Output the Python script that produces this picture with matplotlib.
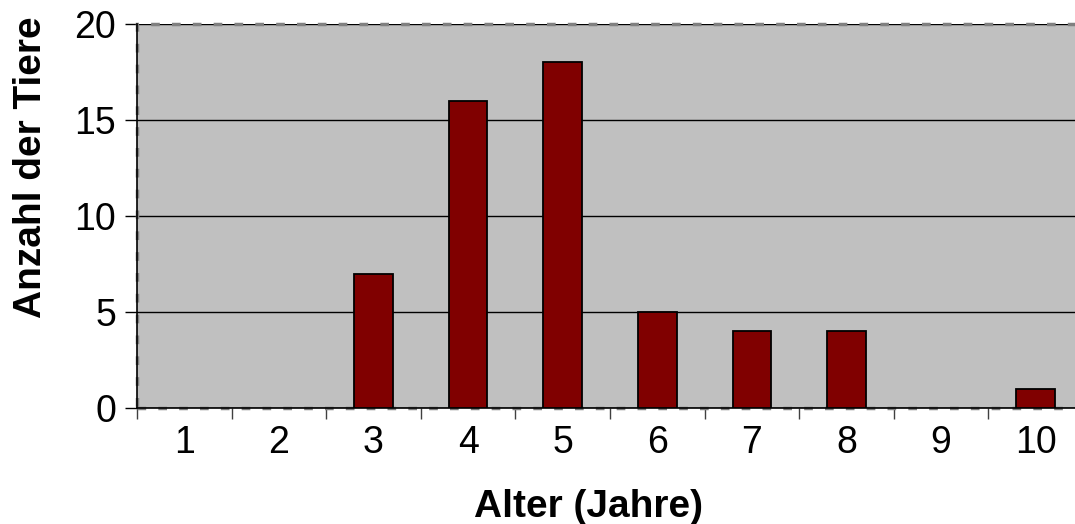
import matplotlib
matplotlib.use("Agg")
import matplotlib.pyplot as plt
import matplotlib.patches as mpatches
import numpy as np

ages = ["1", "2", "3", "4", "5", "6", "7", "8", "9", "10"]
counts = [0, 0, 7, 16, 18, 5, 4, 4, 0, 1]
y_ticks = [0, 5, 10, 15, 20]

plt.rcParams["font.family"] = ["Liberation Sans", "DejaVu Sans"]

fig = plt.figure(figsize=(10.75, 5.24), dpi=100)
W, H = 1075, 524
left, right, top, bottom = 137, 1083, 24, 408
ax = fig.add_axes([left / W, 1 - bottom / H, (right - left) / W, (bottom - top) / H])
ax.set_facecolor("#c0c0c0")

x = np.arange(len(ages))
bars = ax.bar(x, counts, width=0.41, color="#800000", edgecolor="black", linewidth=1.3, zorder=3)
for b, v in zip(bars, counts):
    if v == 0:
        b.set_visible(False)  # Excel draws nothing for empty categories

ax.set_xlim(-0.5, len(ages) - 0.5)
ax.set_ylim(0, 20)
ax.set_yticks(y_ticks)
ax.set_yticklabels([str(v) for v in y_ticks], fontsize=27)
ax.yaxis.grid(True, color="black", linewidth=1.0, zorder=1)
ax.set_axisbelow(True)

# labels centred on categories, ticks between categories
ax.set_xticks(x)
ax.set_xticklabels(ages, fontsize=27)
ax.tick_params(axis="x", length=0, pad=12)
ax.set_xticks(np.arange(-0.5, len(ages), 1.0), minor=True)
ax.tick_params(axis="x", which="minor", length=8, width=1, color="#404040", direction="out")
ax.tick_params(axis="y", length=9, width=1, pad=6)

# dashed gray plot-area border
ax.add_patch(mpatches.Rectangle((0, 0), 1, 1, transform=ax.transAxes, fill=False,
                                edgecolor="#808080", linewidth=2.5,
                                linestyle=(0, (2.5, 3.5)), zorder=2, clip_on=False))
for s in ["top", "right"]:
    ax.spines[s].set_visible(False)
ax.spines["left"].set_color("black")
ax.spines["bottom"].set_color("black")
ax.spines["left"].set_linewidth(1.2)
ax.spines["bottom"].set_linewidth(1.2)

ax.set_xlabel("Alter (Jahre)", fontsize=28, fontweight="bold")
ax.set_ylabel("Anzahl der Tiere", fontsize=28, fontweight="bold")
ax.xaxis.set_label_coords(0.477, -0.21)
ax.yaxis.set_label_coords(-0.093, 0.628)

fig.savefig("out.png", dpi=100)
